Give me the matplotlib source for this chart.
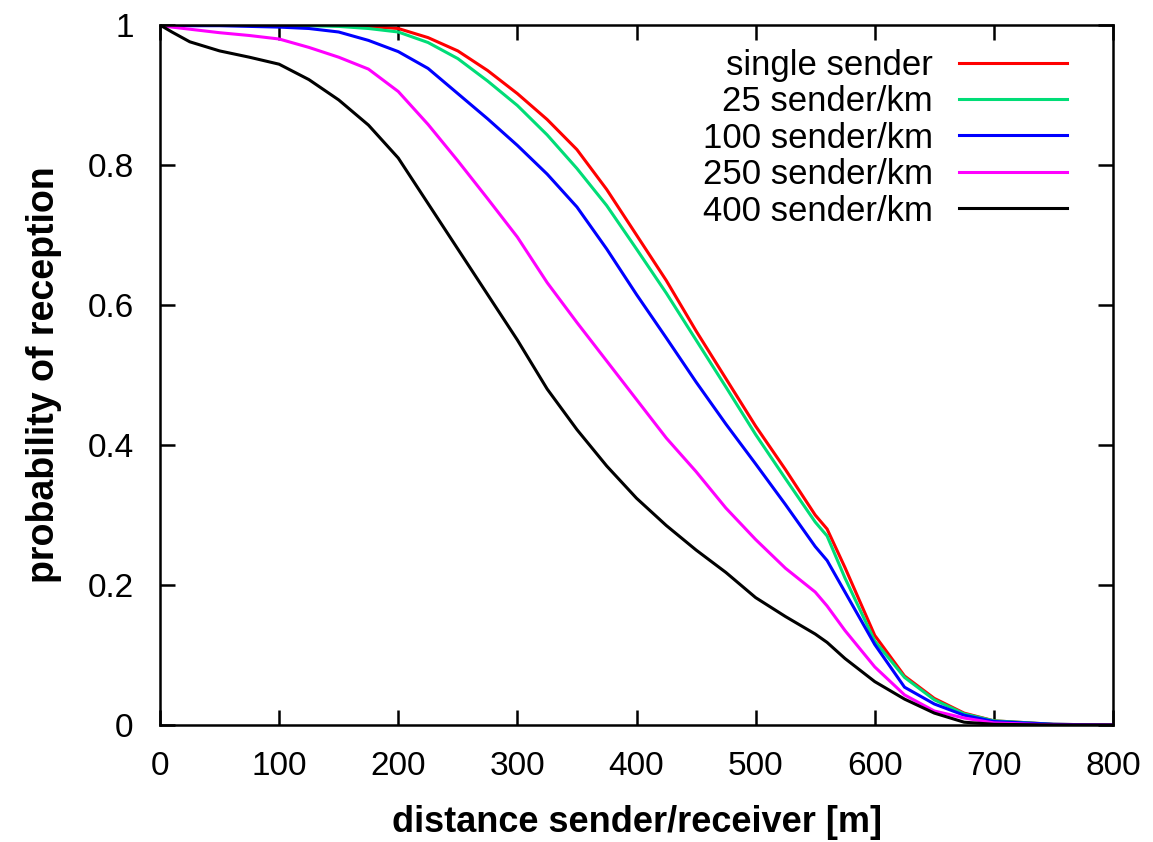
import matplotlib
matplotlib.use("Agg")
import matplotlib.pyplot as plt

plt.rcParams['font.family'] = ['Liberation Sans', 'DejaVu Sans']

distance = [0, 10, 25, 50, 75, 100, 125, 150, 175, 200, 225, 250, 275, 300, 325,
            350, 375, 400, 425, 450, 475, 500, 525, 550, 560, 575, 600, 625, 650,
            675, 700, 750, 800]

single_sender = [1.0, 1.0, 1.0, 1.0, 1.0, 1.0, 1.0, 0.999, 0.998, 0.995, 0.982, 0.963,
                 0.935, 0.902, 0.865, 0.822, 0.765, 0.70, 0.635, 0.563, 0.495, 0.427,
                 0.365, 0.30, 0.28, 0.225, 0.128, 0.07, 0.038, 0.017, 0.006, 0.001, 0.0]
s25 = [1.0, 1.0, 1.0, 1.0, 1.0, 1.0, 0.999, 0.998, 0.995, 0.99, 0.975, 0.952, 0.92,
       0.885, 0.843, 0.795, 0.742, 0.68, 0.617, 0.55, 0.483, 0.415, 0.352, 0.29, 0.27,
       0.21, 0.12, 0.068, 0.036, 0.016, 0.006, 0.001, 0.0]
s100 = [1.0, 1.0, 0.999, 0.999, 0.998, 0.997, 0.995, 0.99, 0.978, 0.962, 0.938, 0.902,
        0.866, 0.828, 0.787, 0.74, 0.68, 0.615, 0.553, 0.49, 0.43, 0.373, 0.315,
        0.255, 0.235, 0.19, 0.115, 0.054, 0.03, 0.014, 0.005, 0.001, 0.0]
s250 = [1.0, 0.997, 0.994, 0.989, 0.985, 0.98, 0.968, 0.954, 0.937, 0.905, 0.858, 0.806,
        0.752, 0.697, 0.632, 0.575, 0.52, 0.465, 0.41, 0.362, 0.31, 0.265, 0.224, 0.19,
        0.17, 0.135, 0.083, 0.043, 0.02, 0.01, 0.003, 0.0, 0.0]
s400 = [1.0, 0.99, 0.976, 0.963, 0.954, 0.944, 0.922, 0.893, 0.857, 0.81, 0.745, 0.68,
        0.615, 0.55, 0.48, 0.422, 0.37, 0.324, 0.285, 0.25, 0.218, 0.182, 0.155, 0.13,
        0.118, 0.095, 0.062, 0.037, 0.017, 0.004, 0.001, 0.0, 0.0]

labels = ["single sender", "25 sender/km", "100 sender/km", "250 sender/km", "400 sender/km"]
series = [single_sender, s25, s100, s250, s400]
colors = ["#ff0000", "#00dd77", "#0000ff", "#ff00ff", "#000000"]

x_ticks = [0, 100, 200, 300, 400, 500, 600, 700, 800]
y_ticks = [0, 0.2, 0.4, 0.6, 0.8, 1]
y_ticklabels = ["0", "0.2", "0.4", "0.6", "0.8", "1"]

fig = plt.figure(figsize=(11.53, 8.42), dpi=100)
ax = fig.add_axes([160/1153, 1-725/842, (1113-160)/1153, (725-25)/842])

for ys, lab, c in zip(series, labels, colors):
    ax.plot(distance, ys, color=c, lw=2.2, label=lab)

ax.set_xlim(0, 800)
ax.set_ylim(0, 1)
ax.set_xticks(x_ticks)
ax.set_xticklabels([str(t) for t in x_ticks])
ax.set_yticks(y_ticks)
ax.set_yticklabels(y_ticklabels)
ax.tick_params(direction='in', length=11, width=1.8, top=True, right=True,
               labelsize=24)
ax.tick_params(axis='x', pad=19)
ax.tick_params(axis='y', pad=19)
for sp in ax.spines.values():
    sp.set_linewidth(1.8)

ax.set_xlabel("distance sender/receiver [m]", fontsize=26, fontweight='bold', labelpad=16)
ax.set_ylabel("probability of reception", fontsize=27, fontweight='bold', labelpad=18)

leg = ax.legend(loc='upper right', frameon=False, markerfirst=False, fontsize=25,
                handlelength=3.1, handletextpad=0.75, labelspacing=0.1,
                bbox_to_anchor=(0.966, 0.986), borderaxespad=0)

fig.savefig("out.png", dpi=100, facecolor='white')
